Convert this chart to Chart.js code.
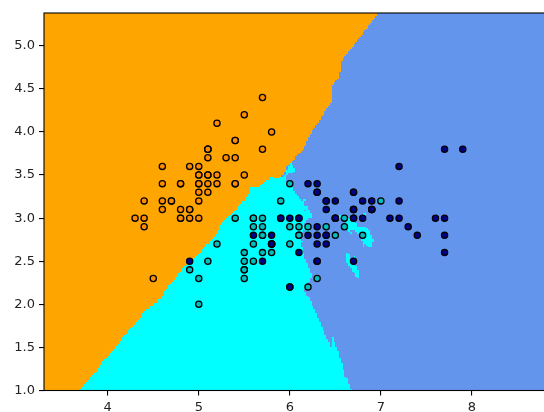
<!DOCTYPE html>
<html>
<head>
<meta charset="utf-8">
<script src="https://cdn.jsdelivr.net/npm/chart.js@4.4.1/dist/chart.umd.min.js"></script>
<style>
  html, body { margin: 0; padding: 0; background: #fff; overflow: hidden; }
  #wrap { position: absolute; left: 0; top: 0; }
</style>
</head>
<body>
<div id="wrap"><canvas id="chart" width="560" height="412"></canvas></div>
<script>
// iris: sepal length, sepal width
var setosa = [
  [5.1,3.5],[4.9,3.0],[4.7,3.2],[4.6,3.1],[5.0,3.6],[5.4,3.9],[4.6,3.4],[5.0,3.4],[4.4,2.9],[4.9,3.1],
  [5.4,3.7],[4.8,3.4],[4.8,3.0],[4.3,3.0],[5.8,4.0],[5.7,4.4],[5.4,3.9],[5.1,3.5],[5.7,3.8],[5.1,3.8],
  [5.4,3.4],[5.1,3.7],[4.6,3.6],[5.1,3.3],[4.8,3.4],[5.0,3.0],[5.0,3.4],[5.2,3.5],[5.2,3.4],[4.7,3.2],
  [4.8,3.1],[5.4,3.4],[5.2,4.1],[5.5,4.2],[4.9,3.1],[5.0,3.2],[5.5,3.5],[4.9,3.6],[4.4,3.0],[5.1,3.4],
  [5.0,3.5],[4.5,2.3],[4.4,3.2],[5.0,3.5],[5.1,3.8],[4.8,3.0],[5.1,3.8],[4.6,3.2],[5.3,3.7],[5.0,3.3]
];
var versicolor = [
  [7.0,3.2],[6.4,3.2],[6.9,3.1],[5.5,2.3],[6.5,2.8],[5.7,2.8],[6.3,3.3],[4.9,2.4],[6.6,2.9],[5.2,2.7],
  [5.0,2.0],[5.9,3.0],[6.0,2.2],[6.1,2.9],[5.6,2.9],[6.7,3.1],[5.6,3.0],[5.8,2.7],[6.2,2.2],[5.6,2.5],
  [5.9,3.2],[6.1,2.8],[6.3,2.5],[6.1,2.8],[6.4,2.9],[6.6,3.0],[6.8,2.8],[6.7,3.0],[6.0,2.9],[5.7,2.6],
  [5.5,2.4],[5.5,2.4],[5.8,2.7],[6.0,2.7],[5.4,3.0],[6.0,3.4],[6.7,3.1],[6.3,2.3],[5.6,3.0],[5.5,2.5],
  [5.5,2.6],[6.1,3.0],[5.8,2.6],[5.0,2.3],[5.6,2.7],[5.7,3.0],[5.7,2.9],[6.2,2.9],[5.1,2.5],[5.7,2.8]
];
var virginica = [
  [6.3,3.3],[5.8,2.7],[7.1,3.0],[6.3,2.9],[6.5,3.0],[7.6,3.0],[4.9,2.5],[7.3,2.9],[6.7,2.5],[7.2,3.6],
  [6.5,3.2],[6.4,2.7],[6.8,3.0],[5.7,2.5],[5.8,2.8],[6.4,3.2],[6.5,3.0],[7.7,3.8],[7.7,2.6],[6.0,2.2],
  [6.9,3.2],[5.6,2.8],[7.7,2.8],[6.3,2.7],[6.7,3.3],[7.2,3.2],[6.2,2.8],[6.1,3.0],[6.4,2.8],[7.2,3.0],
  [7.4,2.8],[7.9,3.8],[6.4,2.8],[6.3,2.8],[6.1,2.6],[7.7,3.0],[6.3,3.4],[6.4,3.1],[6.0,3.0],[6.9,3.1],
  [6.7,3.1],[6.9,3.1],[5.8,2.7],[6.8,3.2],[6.7,3.3],[6.7,3.0],[6.3,2.5],[6.5,3.0],[6.2,3.4],[5.9,3.0]
];

var xTicks = [4, 5, 6, 7, 8];
var yTicks = [1.0, 1.5, 2.0, 2.5, 3.0, 3.5, 4.0, 4.5, 5.0];

// mesh for the decision surface (data range +/- 1, step h)
var meshStep = 0.02;
var meshX = [3.3, 8.88];
var meshY = [1.0, 5.38];
var nNeighbors = 15;

var lightColors = ['#ffa500', '#00ffff', '#6495ed'];   // orange, cyan, cornflowerblue
var boldColors = ['#ff8c00', '#00bfbf', '#00008b'];    // darkorange, c, darkblue

var train = [];
[setosa, versicolor, virginica].forEach(function (group, cls) {
  group.forEach(function (p) { train.push([p[0], p[1], cls]); });
});

// plain majority vote of the k nearest neighbours, ties go to the lower class
function predict(px, py) {
  var bestD = new Float64Array(nNeighbors).fill(Infinity);
  var bestC = new Int8Array(nNeighbors);
  for (var n = 0; n < train.length; n++) {
    var dx = train[n][0] - px, dy = train[n][1] - py;
    var d = Math.sqrt(dx * dx + dy * dy);
    if (d < bestD[nNeighbors - 1]) {
      var k = nNeighbors - 1;
      while (k > 0 && bestD[k - 1] > d) {
        bestD[k] = bestD[k - 1];
        bestC[k] = bestC[k - 1];
        k--;
      }
      bestD[k] = d;
      bestC[k] = train[n][2];
    }
  }
  var votes = [0, 0, 0];
  for (var u = 0; u < nNeighbors; u++) votes[bestC[u]] += 1;
  var best = 0;
  if (votes[1] > votes[best]) best = 1;
  if (votes[2] > votes[best]) best = 2;
  return best;
}

var surface = null;
function buildSurface() {
  var nx = Math.round((meshX[1] - meshX[0]) / meshStep) + 1;
  var ny = Math.round((meshY[1] - meshY[0]) / meshStep) + 1;
  var xs = [], ys = [];
  for (var i = 0; i < nx; i++) xs.push(meshX[0] + i * meshStep);
  for (var j = 0; j < ny; j++) ys.push(meshY[0] + j * meshStep);
  var z = [];
  for (var r = 0; r < ny; r++) {
    var row = new Int8Array(nx);
    for (var c = 0; c < nx; c++) row[c] = predict(xs[c], ys[r]);
    z.push(row);
  }
  return { xs: xs, ys: ys, z: z };
}

// paints the predicted class of every mesh cell behind the points
var decisionSurface = {
  id: 'decisionSurface',
  beforeDatasetsDraw: function (chart) {
    if (!surface) surface = buildSurface();
    var ctx = chart.ctx, area = chart.chartArea;
    var sx = chart.scales.x, sy = chart.scales.y;
    var xs = surface.xs, ys = surface.ys, z = surface.z;
    var px = xs.map(function (v) { return Math.round(sx.getPixelForValue(v)); });
    ctx.save();
    ctx.beginPath();
    ctx.rect(area.left, area.top, area.right - area.left, area.bottom - area.top);
    ctx.clip();
    for (var r = 0; r < ys.length - 1; r++) {
      var y0 = Math.round(sy.getPixelForValue(ys[r]));
      var y1 = Math.round(sy.getPixelForValue(ys[r + 1]));
      var start = 0;
      for (var c = 1; c <= xs.length - 1; c++) {
        if (c === xs.length - 1 || z[r][c] !== z[r][start]) {
          ctx.fillStyle = lightColors[z[r][start]];
          ctx.fillRect(px[start], y1, px[c] - px[start], y0 - y1);
          start = c;
        }
      }
    }
    ctx.restore();
  }
};

var axesFrame = {
  id: 'axesFrame',
  afterDraw: function (chart) {
    var ctx = chart.ctx, a = chart.chartArea;
    ctx.save();
    ctx.strokeStyle = '#000';
    ctx.lineWidth = 1.1;
    ctx.strokeRect(a.left, a.top, a.right - a.left, a.bottom - a.top);
    ctx.restore();
  }
};

function pts(group) {
  return group.map(function (p) { return { x: p[0], y: p[1] }; });
}

var tickFont = { family: 'DejaVu Sans', size: 13 };

new Chart(document.getElementById('chart'), {
  type: 'scatter',
  data: {
    datasets: [
      { label: 'setosa', data: pts(setosa), backgroundColor: boldColors[0], order: 3 },
      { label: 'versicolor', data: pts(versicolor), backgroundColor: boldColors[1], order: 2 },
      { label: 'virginica', data: pts(virginica), backgroundColor: boldColors[2], order: 1 }
    ]
  },
  options: {
    responsive: false,
    animation: false,
    events: [],
    layout: { padding: { top: 13, right: 8, left: 0, bottom: 0 } },
    elements: {
      point: { radius: 3.1, hoverRadius: 3.1, borderWidth: 1.3, borderColor: '#000' }
    },
    plugins: { legend: { display: false }, tooltip: { enabled: false } },
    scales: {
      x: {
        type: 'linear',
        min: meshX[0],
        max: meshX[1],
        afterBuildTicks: function (s) { s.ticks = xTicks.map(function (v) { return { value: v }; }); },
        afterFit: function (s) { s.height = 21.5; },
        border: { display: false },
        grid: { drawOnChartArea: false, tickLength: 5, color: '#000', lineWidth: 1.1 },
        ticks: { color: '#222', font: tickFont, padding: 4, maxRotation: 0, autoSkip: false,
                 callback: function (v) { return String(v); } }
      },
      y: {
        type: 'linear',
        min: meshY[0],
        max: meshY[1],
        afterBuildTicks: function (s) { s.ticks = yTicks.map(function (v) { return { value: v }; }); },
        afterFit: function (s) { s.width = 44; },
        border: { display: false },
        grid: { drawOnChartArea: false, tickLength: 5, color: '#000', lineWidth: 1.1 },
        ticks: { color: '#222', font: tickFont, padding: 4, autoSkip: false,
                 callback: function (v) { return v.toFixed(1); } }
      }
    }
  },
  plugins: [decisionSurface, axesFrame]
});
</script>
</body>
</html>
